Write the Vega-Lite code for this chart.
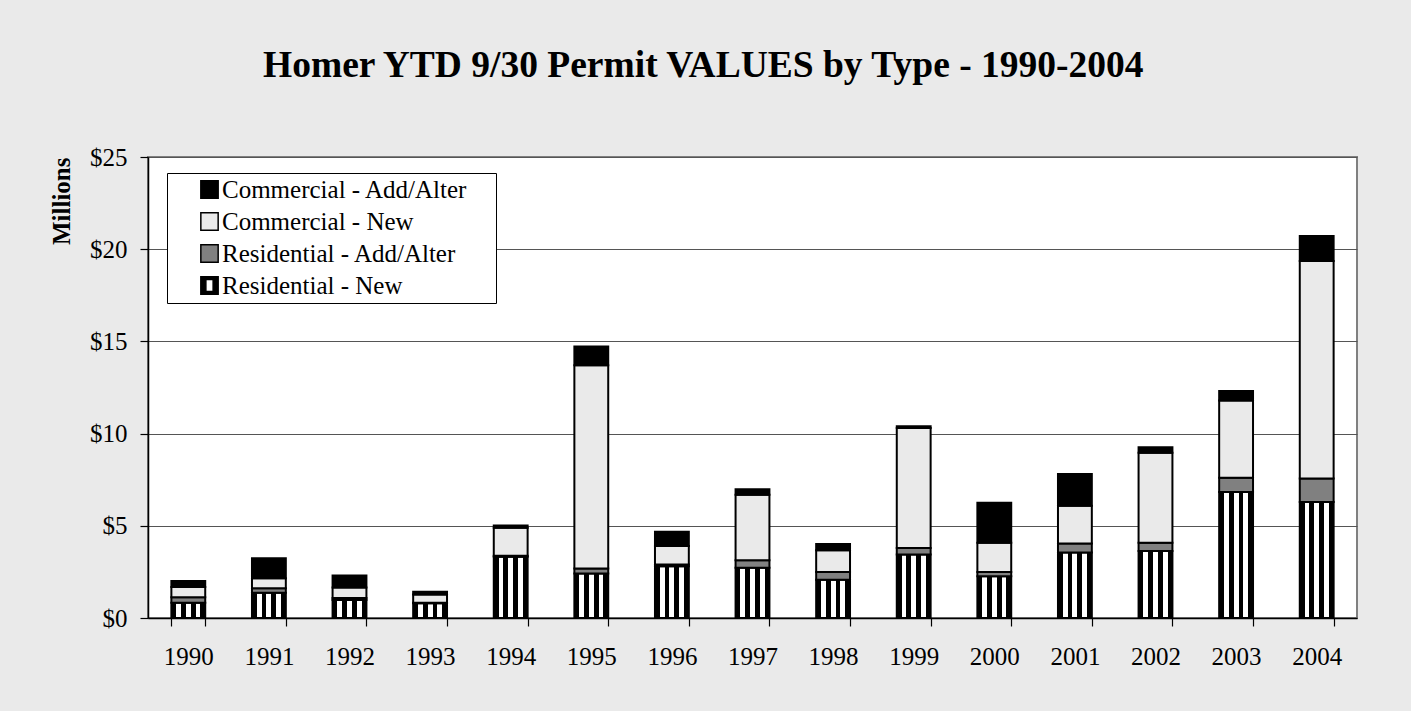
{
  "$schema": "https://vega.github.io/schema/vega-lite/v6.json",
  "autosize": {"type": "none"},
  "padding": {"left": 148, "top": 157, "right": 54, "bottom": 93},
  "width": 1209,
  "height": 461,
  "background": "#EAEAEA",
  "title": {
    "text": "Homer YTD 9/30 Permit VALUES by Type - 1990-2004",
    "font": "Liberation Serif",
    "fontSize": 37.5,
    "fontWeight": "bold",
    "color": "black",
    "anchor": "middle",
    "frame": "bounds",
    "offset": 61
  },
  "config": {
    "view": {"fill": "white", "stroke": "#808080", "strokeWidth": 2},
    "axis": {
      "labelFont": "Liberation Serif",
      "labelFontSize": 25,
      "labelColor": "black",
      "titleFont": "Liberation Serif",
      "titleColor": "black",
      "domainColor": "black",
      "tickColor": "black"
    }
  },
  "data": {
    "values": [
      {"year": "1990", "type": "Residential - New", "value": 0.83},
      {"year": "1990", "type": "Residential - Add/Alter", "value": 0.30},
      {"year": "1990", "type": "Commercial - New", "value": 0.55},
      {"year": "1990", "type": "Commercial - Add/Alter", "value": 0.32},
      {"year": "1991", "type": "Residential - New", "value": 1.37},
      {"year": "1991", "type": "Residential - Add/Alter", "value": 0.24},
      {"year": "1991", "type": "Commercial - New", "value": 0.55},
      {"year": "1991", "type": "Commercial - Add/Alter", "value": 1.08},
      {"year": "1992", "type": "Residential - New", "value": 0.98},
      {"year": "1992", "type": "Residential - Add/Alter", "value": 0.10},
      {"year": "1992", "type": "Commercial - New", "value": 0.58},
      {"year": "1992", "type": "Commercial - Add/Alter", "value": 0.65},
      {"year": "1993", "type": "Residential - New", "value": 0.80},
      {"year": "1993", "type": "Residential - Add/Alter", "value": 0.03},
      {"year": "1993", "type": "Commercial - New", "value": 0.45},
      {"year": "1993", "type": "Commercial - Add/Alter", "value": 0.15},
      {"year": "1994", "type": "Residential - New", "value": 3.32},
      {"year": "1994", "type": "Residential - Add/Alter", "value": 0.05},
      {"year": "1994", "type": "Commercial - New", "value": 1.52},
      {"year": "1994", "type": "Commercial - Add/Alter", "value": 0.12},
      {"year": "1995", "type": "Residential - New", "value": 2.41},
      {"year": "1995", "type": "Residential - Add/Alter", "value": 0.27},
      {"year": "1995", "type": "Commercial - New", "value": 11.03},
      {"year": "1995", "type": "Commercial - Add/Alter", "value": 1.02},
      {"year": "1996", "type": "Residential - New", "value": 2.80},
      {"year": "1996", "type": "Residential - Add/Alter", "value": 0.10},
      {"year": "1996", "type": "Commercial - New", "value": 1.00},
      {"year": "1996", "type": "Commercial - Add/Alter", "value": 0.78},
      {"year": "1997", "type": "Residential - New", "value": 2.73},
      {"year": "1997", "type": "Residential - Add/Alter", "value": 0.40},
      {"year": "1997", "type": "Commercial - New", "value": 3.56},
      {"year": "1997", "type": "Commercial - Add/Alter", "value": 0.29},
      {"year": "1998", "type": "Residential - New", "value": 2.08},
      {"year": "1998", "type": "Residential - Add/Alter", "value": 0.42},
      {"year": "1998", "type": "Commercial - New", "value": 1.18},
      {"year": "1998", "type": "Commercial - Add/Alter", "value": 0.33},
      {"year": "1999", "type": "Residential - New", "value": 3.44},
      {"year": "1999", "type": "Residential - Add/Alter", "value": 0.36},
      {"year": "1999", "type": "Commercial - New", "value": 6.50},
      {"year": "1999", "type": "Commercial - Add/Alter", "value": 0.10},
      {"year": "2000", "type": "Residential - New", "value": 2.26},
      {"year": "2000", "type": "Residential - Add/Alter", "value": 0.24},
      {"year": "2000", "type": "Commercial - New", "value": 1.58},
      {"year": "2000", "type": "Commercial - Add/Alter", "value": 2.17},
      {"year": "2001", "type": "Residential - New", "value": 3.55},
      {"year": "2001", "type": "Residential - Add/Alter", "value": 0.49},
      {"year": "2001", "type": "Commercial - New", "value": 2.05},
      {"year": "2001", "type": "Commercial - Add/Alter", "value": 1.72},
      {"year": "2002", "type": "Residential - New", "value": 3.63},
      {"year": "2002", "type": "Residential - Add/Alter", "value": 0.45},
      {"year": "2002", "type": "Commercial - New", "value": 4.88},
      {"year": "2002", "type": "Commercial - Add/Alter", "value": 0.30},
      {"year": "2003", "type": "Residential - New", "value": 6.83},
      {"year": "2003", "type": "Residential - Add/Alter", "value": 0.78},
      {"year": "2003", "type": "Commercial - New", "value": 4.18},
      {"year": "2003", "type": "Commercial - Add/Alter", "value": 0.52},
      {"year": "2004", "type": "Residential - New", "value": 6.29},
      {"year": "2004", "type": "Residential - Add/Alter", "value": 1.27},
      {"year": "2004", "type": "Commercial - New", "value": 11.80},
      {"year": "2004", "type": "Commercial - Add/Alter", "value": 1.36}
    ]
  },
  "encoding": {
    "x": {
      "field": "year",
      "type": "ordinal",
      "scale": {"paddingInner": 0.58, "paddingOuter": 0.29},
      "axis": {
        "title": null,
        "labelAngle": 0,
        "tickBand": "extent",
        "tickSize": 8,
        "tickWidth": 1.2,
        "labelPadding": 18,
        "domainWidth": 1.5,
        "grid": false
      }
    },
    "y": {
      "field": "value",
      "type": "quantitative",
      "stack": "zero",
      "scale": {"domain": [0, 25], "nice": false},
      "axis": {
        "values": [0, 5, 10, 15, 20, 25],
        "format": "$.0f",
        "title": "Millions",
        "titleFontSize": 25,
        "titleFontWeight": "bold",
        "titleAnchor": "end",
        "titlePadding": 15,
        "grid": true,
        "gridColor": "#555555",
        "gridWidth": 1,
        "tickSize": 8,
        "tickWidth": 1.2,
        "labelPadding": 13,
        "domainWidth": 1.5
      }
    },
    "order": {"field": "type", "sort": "descending"}
  },
  "layer": [
    {
      "mark": {"type": "bar", "stroke": "black", "strokeWidth": 2},
      "encoding": {
        "fill": {
          "condition": {
            "test": "datum.type === 'Residential - New'",
            "value": {
              "gradient": "linear", "x1": 0, "x2": 1, "y1": 0, "y2": 0,
              "stops": [
                {"offset": 0, "color": "black"},
                {"offset": 0.143, "color": "black"},
                {"offset": 0.143, "color": "white"},
                {"offset": 0.286, "color": "white"},
                {"offset": 0.286, "color": "black"},
                {"offset": 0.429, "color": "black"},
                {"offset": 0.429, "color": "white"},
                {"offset": 0.571, "color": "white"},
                {"offset": 0.571, "color": "black"},
                {"offset": 0.714, "color": "black"},
                {"offset": 0.714, "color": "white"},
                {"offset": 0.857, "color": "white"},
                {"offset": 0.857, "color": "black"},
                {"offset": 1, "color": "black"}
              ]
            }
          },
          "field": "type",
          "type": "nominal",
          "scale": {
            "domain": ["Commercial - Add/Alter", "Commercial - New", "Residential - Add/Alter", "Residential - New"],
            "range": ["#000000", "#EAEAEA", "#808080", "#000000"]
          },
          "legend": {
            "title": null,
            "orient": "none",
            "legendX": 19,
            "legendY": 16,
            "fillColor": "white",
            "strokeColor": "black",
            "padding": 4,
            "symbolOffset": 26,
            "symbolSize": 300,
            "symbolStrokeColor": "black",
            "symbolStrokeWidth": 1.5,
            "symbolOpacity": 1,
            "labelFont": "Liberation Serif",
            "labelFontSize": 25,
            "labelColor": "black",
            "labelOffset": 0,
            "labelLimit": 400,
            "rowPadding": 6,
            "labelExpr": "datum.label + '\u00a0\u00a0\u00a0\u2009\u200b'"
          }
        }
      }
    },
    {
      "mark": {"type": "point", "filled": false, "color": "black", "strokeWidth": 1.5, "opacity": 0},
      "encoding": {
        "shape": {
          "field": "type",
          "type": "nominal",
          "scale": {
            "domain": ["Commercial - Add/Alter", "Commercial - New", "Residential - Add/Alter", "Residential - New"],
            "range": ["square", "square", "square", "M-1,-1H1V1H-1Z M-0.42,-0.7V0.7H0.42V-0.7Z"]
          },
          "legend": {
            "title": null,
            "orient": "none",
            "legendX": 19,
            "legendY": 16,
            "fillColor": "white",
            "strokeColor": "black",
            "padding": 4,
            "symbolOffset": 26,
            "symbolSize": 300,
            "symbolStrokeColor": "black",
            "symbolStrokeWidth": 1.5,
            "symbolOpacity": 1,
            "labelFont": "Liberation Serif",
            "labelFontSize": 25,
            "labelColor": "black",
            "labelOffset": 0,
            "labelLimit": 400,
            "rowPadding": 6,
            "labelExpr": "datum.label + '\u00a0\u00a0\u00a0\u2009\u200b'"
          }
        }
      }
    }
  ]
}
